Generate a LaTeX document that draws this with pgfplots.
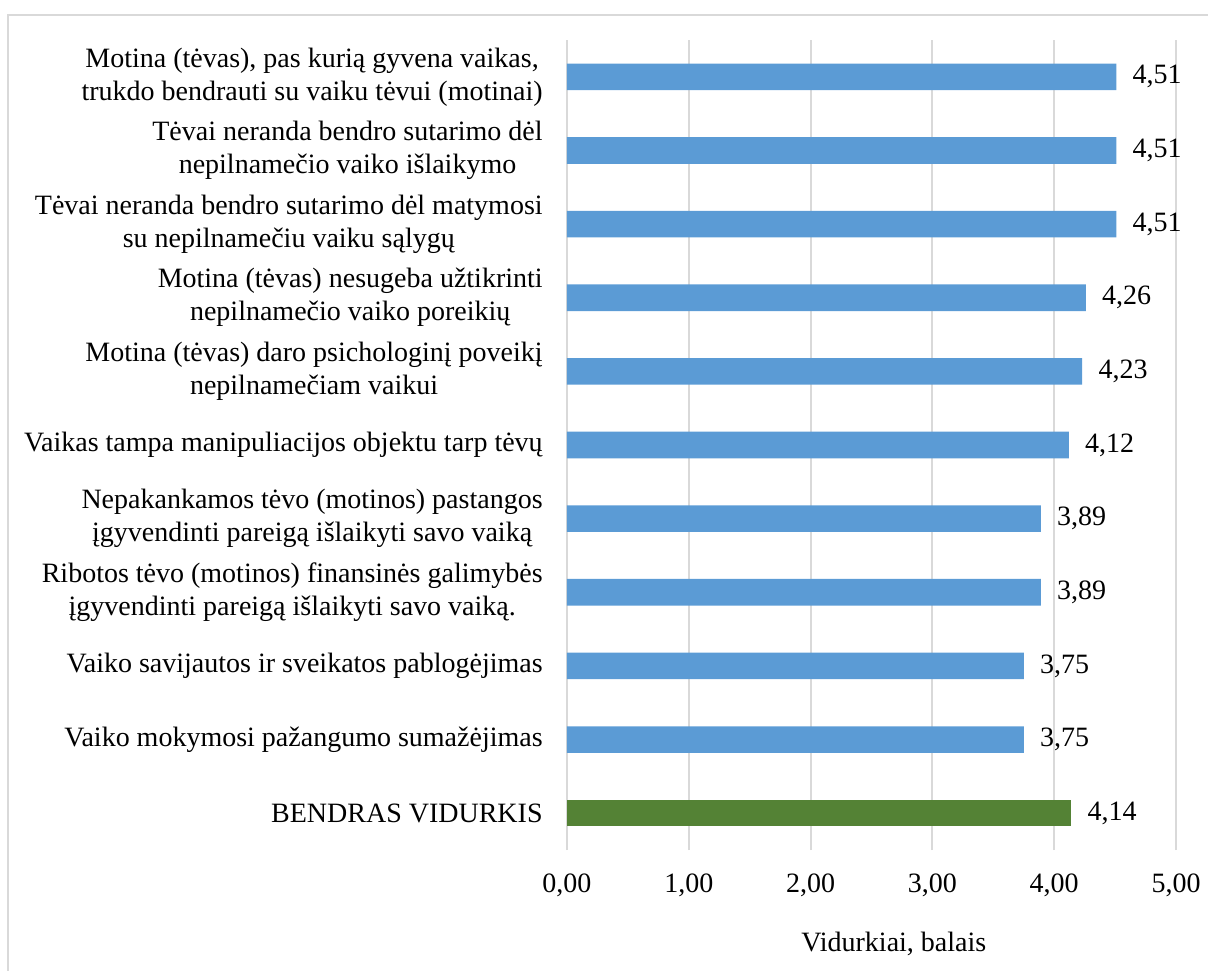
\documentclass[border=0pt]{standalone}
\usepackage{fontspec}
\setmainfont{Liberation Serif}
\usepackage{pgfplots}
\pgfplotsset{compat=1.18}
\definecolor{barblue}{HTML}{5B9BD5}
\definecolor{bargreen}{HTML}{548235}
\definecolor{gridgray}{HTML}{D9D9D9}
\begin{document}
\fontsize{14}{16.5}\selectfont
\begin{tikzpicture}
\begin{axis}[
  at={(0,0)}, anchor=south west,
  scale only axis, width=304.5pt, height=405pt,
  xmin=0, xmax=5, ymin=-0.5, ymax=10.5,
  xtick={0,1,2,3,4,5}, ytick={0,...,10},
  yticklabels={
    {BENDRAS VIDURKIS},
    {Vaiko mokymosi pažangumo sumažėjimas},
    {Vaiko savijautos ir sveikatos pablogėjimas},
    {Ribotos tėvo (motinos) finansinės galimybės\\ įgyvendinti pareigą išlaikyti savo vaiką.},
    {Nepakankamos tėvo (motinos) pastangos\\ įgyvendinti pareigą išlaikyti savo vaiką},
    {Vaikas tampa manipuliacijos objektu tarp tėvų},
    {Motina (tėvas) daro psichologinį poveikį\\ nepilnamečiam vaikui},
    {Motina (tėvas) nesugeba užtikrinti\\ nepilnamečio vaiko poreikių},
    {Tėvai neranda bendro sutarimo dėl matymosi\\ su nepilnamečiu vaiku sąlygų},
    {Tėvai neranda bendro sutarimo dėl\\ nepilnamečio vaiko išlaikymo},
    {Motina (tėvas), pas kurią gyvena vaikas,\\ trukdo bendrauti su vaiku tėvui (motinai)}
  },
  axis line style={draw=none},
  major tick length=0pt,
  xmajorgrids, major grid style={gridgray, line width=1pt},
  /pgf/number format/use comma,
  /pgf/number format/fixed,
  /pgf/number format/fixed zerofill,
  /pgf/number format/precision=2,
  /pgf/number format/assume math mode=true,
  tick label style={font=\fontsize{14}{16.5}\selectfont},
  yticklabel style={align=center, xshift=-7.3pt},
  xticklabel style={yshift=-7.3pt},
  xbar, bar width=13.3pt, bar shift=0pt,
  nodes near coords,
  every node near coord/.append style={font=\fontsize{14}{16.5}\selectfont, xshift=3.3pt, black},
]
\addplot[fill=barblue, draw=none] coordinates {
  (3.75,1) (3.75,2) (3.89,3) (3.89,4) (4.12,5) (4.23,6) (4.26,7) (4.51,8) (4.51,9) (4.51,10)
};
\addplot[fill=bargreen, draw=none] coordinates {(4.14,0)};
\end{axis}
\node[anchor=base, font=\fontsize{14}{16.5}\selectfont] at (163.4pt,-50.85pt) {Vidurkiai, balais};
\draw[gridgray, line width=1pt] (-279.5pt,-70pt) -- (-279.5pt,417.5pt) -- (330pt,417.5pt);
\pgfresetboundingbox
\path[use as bounding box] (-283.5pt,-60pt) rectangle (320.5pt,425pt);
\end{tikzpicture}
\end{document}
